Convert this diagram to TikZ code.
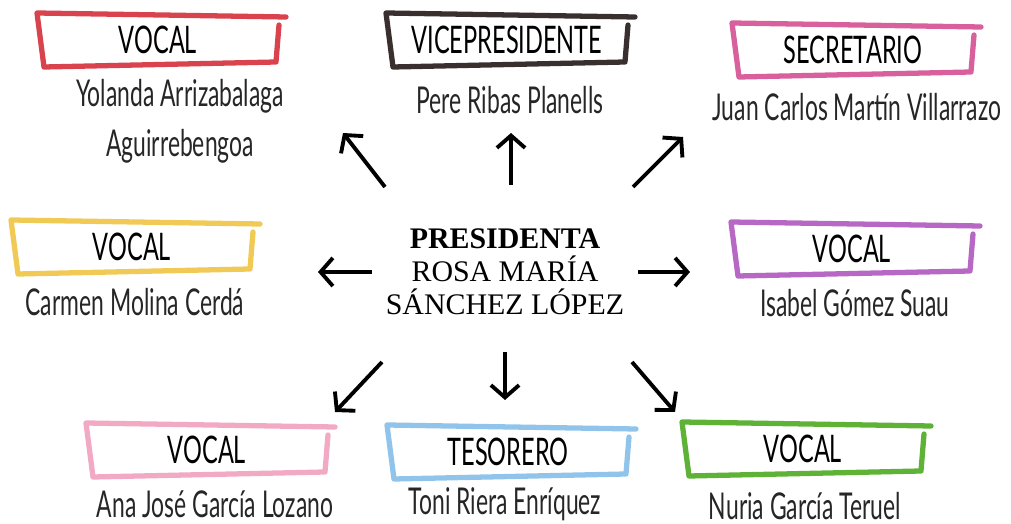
\documentclass[tikz,border=0pt]{standalone}
\usepackage{fontspec}
\usepackage{tikz}
\usetikzlibrary{arrows.meta}

\newfontfamily\hand[FakeStretch=0.62]{Lato}
\newfontfamily\timesfont{Liberation Serif}

\definecolor{rojo}{HTML}{D9434E}
\definecolor{marron}{HTML}{3A2F2F}
\definecolor{fucsia}{HTML}{D8609C}
\definecolor{amarillo}{HTML}{F1C955}
\definecolor{lila}{HTML}{B767C4}
\definecolor{rosa}{HTML}{F2A9C4}
\definecolor{celeste}{HTML}{90C4EA}
\definecolor{verde}{HTML}{5EB236}

\tikzset{
  title/.style={font=\hand\fontsize{10.8}{12}\selectfont, inner sep=0pt, minimum width=2.4cm, minimum height=0.54cm},
  person/.style={font=\hand\fontsize{10.5}{12.3}\selectfont, align=center, text=black!85},
  brush/.style={line width=1.5pt, line cap=round, line join=round},
  link/.style={line width=1.1pt, -{Straight Barb[length=3.5pt,width=8pt]}}
}

% hand drawn frame round a title node
\newcommand{\brushbox}[2]{%
  \draw[brush, #2] ([shift={(121,15)}]#1.center) -- ([shift={(118,-22)}]#1.center)
    -- ([shift={(-114,-27)}]#1.center) -- ([shift={(-121,27)}]#1.center)
    -- ([shift={(128,23)}]#1.center);
}

\begin{document}
\begin{tikzpicture}[x=0.01cm, y=0.01cm]
  \useasboundingbox (0,0) rectangle (1011,524);

  % centre
  \node[font=\timesfont\fontsize{8.5}{9.4}\selectfont, align=center] (pres) at (505,252)
    {\textbf{PRESIDENTA}\\ROSA MARÍA\\SÁNCHEZ LÓPEZ};

  % titles
  \node[title] (vocal1) at (158,484) {VOCAL};
  \node[title] (vice) at (507,484) {VICEPRESIDENTE};
  \node[title] (secre) at (853,474) {SECRETARIO};
  \node[title] (vocal2) at (132,277) {VOCAL};
  \node[title] (vocal3) at (852,275) {VOCAL};
  \node[title] (vocal4) at (207,74) {VOCAL};
  \node[title] (tesor) at (508,72) {TESORERO};
  \node[title] (vocal5) at (803,75) {VOCAL};

  \brushbox{vocal1}{rojo}
  \brushbox{vice}{marron}
  \brushbox{secre}{fucsia}
  \brushbox{vocal2}{amarillo}
  \brushbox{vocal3}{lila}
  \brushbox{vocal4}{rosa}
  \brushbox{tesor}{celeste}
  \brushbox{vocal5}{verde}

  % names
  \node[person] (n1) at (180,403) {Yolanda Arrizabalaga\\[2pt]Aguirrebengoa};
  \node[person] (n2) at (510,424) {Pere Ribas Planells};
  \node[person] (n3) at (857,417) {Juan Carlos Martín Villarrazo};
  \node[person] (n4) at (135,222) {Carmen Molina Cerdá};
  \node[person] (n5) at (855,221) {Isabel Gómez Suau};
  \node[person] (n6) at (215,20) {Ana José García Lozano};
  \node[person] (n7) at (505,20) {Toni Riera Enríquez};
  \node[person] (n8) at (805,18) {Nuria García Teruel};

  % arrow ends
  \coordinate (a1) at (385,337); \coordinate (b1) at (343,391);
  \coordinate (a2) at (511,339); \coordinate (b2) at (511,391);
  \coordinate (a3) at (633,337); \coordinate (b3) at (683,387);
  \coordinate (a4) at (372,252); \coordinate (b4) at (318,252);
  \coordinate (a5) at (638,252); \coordinate (b5) at (690,252);
  \coordinate (a6) at (382,162); \coordinate (b6) at (335,112);
  \coordinate (a7) at (505,172); \coordinate (b7) at (505,124);
  \coordinate (a8) at (632,162); \coordinate (b8) at (675,112);

  \foreach \i in {1,...,8}
    \draw[link] (a\i) -- (b\i);
\end{tikzpicture}
\end{document}
